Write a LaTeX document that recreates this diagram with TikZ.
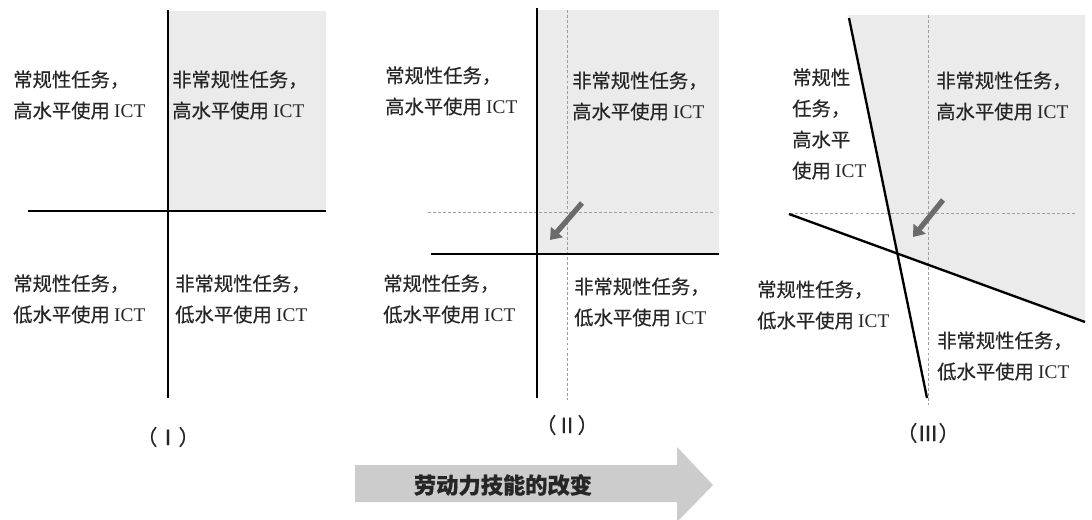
\documentclass[tikz,border=0pt]{standalone}
\usepackage{fontspec}
\setmainfont{Liberation Serif}
\newfontfamily\cjk[FakeBold=0.4]{Noto Sans CJK SC}
\usetikzlibrary{arrows.meta}
\usepackage{xcolor}
\definecolor{shadegray}{gray}{0.92}
\definecolor{inkgray}{gray}{0.15}
\definecolor{guidegray}{gray}{0.62}
\definecolor{pointergray}{gray}{0.42}
\definecolor{bandgray}{gray}{0.8}

\begin{document}
\begin{tikzpicture}[
    x=0.03cm, y=-0.03cm,
    every node/.style={inner sep=0pt, text=inkgray, font=\cjk\fontsize{16.5}{26.5}\selectfont},
    quad/.style={anchor=west, align=left},
    caption/.style={font=\cjk\fontsize{18}{20}\selectfont},
    axisline/.style={line width=2pt, black},
    guideline/.style={guidegray, line width=0.8pt, dash pattern=on 2.5pt off 1.8pt},
    pointer/.style={pointergray, line width=4.5pt, -{Triangle[width=13pt,length=9pt]}}
]
\useasboundingbox (0,0) rectangle (1092,519);

% (I)
\fill[shadegray] (168,11) rectangle (326,211);
\coordinate (a1) at (168,10);
\coordinate (a2) at (168,398);
\coordinate (b1) at (28,211);
\coordinate (b2) at (326,211);
\draw[axisline] (a1) -- (a2);
\draw[axisline] (b1) -- (b2);

\node[quad] (tl1) at (13,95) {常规性任务，\\高水平使用 \textrm{ICT}};
\node[quad] (tr1) at (172,95) {非常规性任务，\\高水平使用 \textrm{ICT}};
\node[quad] (bl1) at (13,299) {常规性任务，\\低水平使用 \textrm{ICT}};
\node[quad] (br1) at (175,299) {非常规性任务，\\低水平使用 \textrm{ICT}};
\node[caption] (cap1) at (168,437) {（Ⅰ）};

% (II)
\fill[shadegray] (537,10) rectangle (719,254);
\coordinate (c1) at (567,10);
\coordinate (c2) at (567,400);
\coordinate (d1) at (428,212);
\coordinate (d2) at (715,212);
\draw[guideline] (c1) -- (c2);
\draw[guideline] (d1) -- (d2);
\coordinate (e1) at (537,8);
\coordinate (e2) at (537,398);
\coordinate (f1) at (431,254);
\coordinate (f2) at (719,254);
\draw[axisline] (e1) -- (e2);
\draw[axisline] (f1) -- (f2);
\coordinate (p1) at (582,203);
\coordinate (p2) at (550,240);
\draw[pointer] (p1) -- (p2);

\node[quad] (tl2) at (385,91) {常规性任务，\\高水平使用 \textrm{ICT}};
\node[quad] (tr2) at (572,96) {非常规性任务，\\高水平使用 \textrm{ICT}};
\node[quad] (bl2) at (383,299) {常规性任务，\\低水平使用 \textrm{ICT}};
\node[quad] (br2) at (574,302) {非常规性任务，\\低水平使用 \textrm{ICT}};
\node[caption] (cap2) at (567,425) {（Ⅱ）};

% (III)
\coordinate (g1) at (849,18);
\coordinate (g2) at (927,398);
\coordinate (h1) at (789,214);
\coordinate (h2) at (1085,322);
\fill[shadegray] (848,15) -- (1085,15) -- (h2) -- (897.3,253.4) -- cycle;
\coordinate (k1) at (928,15);
\coordinate (k2) at (928,405);
\coordinate (m1) at (790,213);
\coordinate (m2) at (1075,213);
\draw[guideline] (k1) -- (k2);
\draw[guideline] (m1) -- (m2);
\draw[axisline] (g1) -- (g2);
\draw[axisline] (h1) -- (h2);
\coordinate (q1) at (943,200);
\coordinate (q2) at (913,237);
\draw[pointer] (q1) -- (q2);

\node[quad] (tl3) at (792,124) {常规性\\任务，\\高水平\\使用 \textrm{ICT}};
\node[quad] (tr3) at (936,96) {非常规性任务，\\高水平使用 \textrm{ICT}};
\node[quad] (bl3) at (757,305) {常规性任务，\\低水平使用 \textrm{ICT}};
\node[quad] (br3) at (937,356) {非常规性任务，\\低水平使用 \textrm{ICT}};
\node[caption] (cap3) at (928,433) {（Ⅲ）};

% skill shift
\fill[bandgray] (355,465) -- (677,465) -- (677,447) -- (713,485) -- (677,522)
    -- (677,502) -- (355,502) -- cycle;
\node[font=\cjk\bfseries\fontsize{19}{22}\selectfont] (shift) at (503,485) {劳动力技能的改变};

\end{tikzpicture}
\end{document}
